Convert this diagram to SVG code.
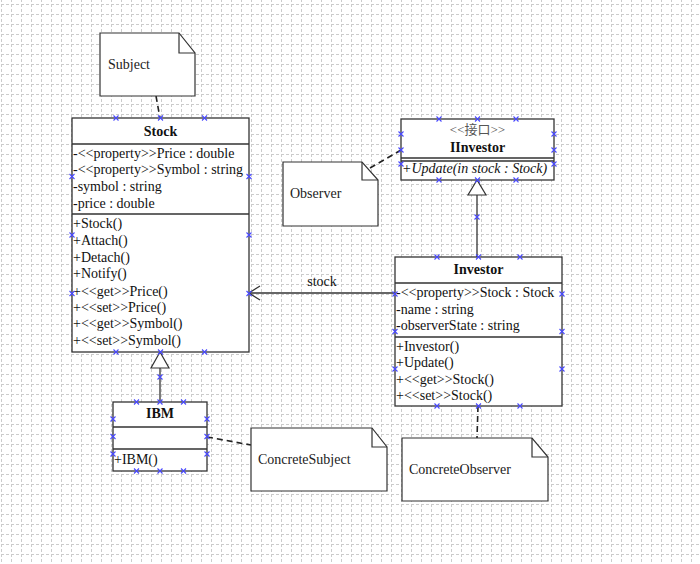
<svg xmlns="http://www.w3.org/2000/svg" xmlns:xlink="http://www.w3.org/1999/xlink" width="700" height="564" viewBox="0 0 700 564">
<defs>
<style>
.bg{fill:#ffffff}
.box{fill:#ffffff;stroke:#333333;stroke-width:1.3}
.sep{stroke:#333333;stroke-width:1.3;fill:none}
.note{fill:#ffffff;stroke:#333333;stroke-width:1.2}
.fold{fill:none;stroke:#333333;stroke-width:1.2}
.dash{fill:none;stroke:#222222;stroke-width:1.6;stroke-dasharray:6 4}
.line{fill:none;stroke:#333333;stroke-width:1.3}
.tri{fill:#ffffff;stroke:#333333;stroke-width:1.2}
.t{font-family:"Liberation Serif","Times New Roman",serif;font-size:14px;fill:#111111}
.b{font-weight:bold;text-anchor:middle}
.i{font-style:italic}
.st{font-family:"Liberation Serif","Noto Sans CJK SC",serif;font-size:13px;fill:#555555;text-anchor:middle}
.nt{font-family:"Liberation Serif","Times New Roman",serif;font-size:14px;fill:#222222}
.xm{stroke:#4848ff;stroke-width:1.1;fill:none}
.gv{stroke:#cccccc;stroke-width:1;stroke-dasharray:3 2}
</style>
<pattern id="grid" x="1" y="4" width="10" height="10" patternUnits="userSpaceOnUse">
<line class="gv" x1="0.5" y1="0" x2="0.5" y2="10"/>
<line class="gv" x1="0" y1="0.5" x2="10" y2="0.5"/>
</pattern>
<path id="xmk" class="xm" d="M-2.5,-2.5L2.5,2.5M-2.5,2.5L2.5,-2.5"/>
</defs>
<rect class="bg" x="0" y="0" width="700" height="564"/>
<rect x="0" y="0" width="700" height="564" fill="url(#grid)"/>

<g id="connectors">
<path class="dash" d="M156,96 L160,118"/>
<path class="dash" d="M370,168 L401,150"/>
<path class="dash" d="M207,437 L251,445"/>
<path class="dash" d="M478,406 L477,438"/>
<path class="line" d="M160,402 V368"/>
<polygon class="tri" points="160,352 151,368 169,368"/>
<path class="line" d="M477,257 V195"/>
<polygon class="tri" points="477,180 468,195 486,195"/>
<path class="line" d="M395,293 H249"/>
<path class="line" d="M260,286 L249,293 L260,300"/>
<text class="t" x="322" y="286" text-anchor="middle">stock</text>
</g>

<g id="note-subject">
<path class="note" d="M100,33 H179 L195,53 V96 H100 Z"/>
<path class="fold" d="M179,33 V53 H195"/>
<text class="nt" x="108" y="69">Subject</text>
</g>

<g id="note-observer">
<path class="note" d="M283,162 H362 L378,180 V226 H283 Z"/>
<path class="fold" d="M362,162 V180 H378"/>
<text class="nt" x="290" y="198">Observer</text>
</g>

<g id="note-concretesubject">
<path class="note" d="M251,428 H372 L387,447 V491 H251 Z"/>
<path class="fold" d="M372,428 V447 H387"/>
<text class="nt" x="258" y="464">ConcreteSubject</text>
</g>

<g id="note-concreteobserver">
<path class="note" d="M402,438 H532 L548,457 V501 H402 Z"/>
<path class="fold" d="M532,438 V457 H548"/>
<text class="nt" x="409" y="474">ConcreteObserver</text>
</g>

<g id="class-stock">
<rect class="box" x="72" y="118" width="177" height="234"/>
<path class="sep" d="M72,144 H249 M72,214 H249"/>
<text class="t b" x="160.5" y="136">Stock</text>
<text class="t" x="73" y="158">-&lt;&lt;property&gt;&gt;Price : double</text>
<text class="t" x="73" y="174">-&lt;&lt;property&gt;&gt;Symbol : string</text>
<text class="t" x="73" y="191">-symbol : string</text>
<text class="t" x="73" y="208">-price : double</text>
<text class="t" x="73" y="228">+Stock()</text>
<text class="t" x="73" y="245">+Attach()</text>
<text class="t" x="73" y="262">+Detach()</text>
<text class="t" x="73" y="278">+Notify()</text>
<text class="t" x="73" y="296">+&lt;&lt;get&gt;&gt;Price()</text>
<text class="t" x="73" y="312">+&lt;&lt;set&gt;&gt;Price()</text>
<text class="t" x="73" y="328">+&lt;&lt;get&gt;&gt;Symbol()</text>
<text class="t" x="73" y="345">+&lt;&lt;set&gt;&gt;Symbol()</text>
</g>

<g id="class-ibm">
<rect class="box" x="113" y="402" width="94" height="69"/>
<path class="sep" d="M113,427 H207 M113,449 H207"/>
<text class="t b" x="160" y="418">IBM</text>
<text class="t" x="114" y="464">+IBM()</text>
</g>

<g id="class-iinvestor">
<rect class="box" x="401" y="119" width="153" height="61"/>
<path class="sep" d="M401,158 H554 M401,161 H554"/>
<text class="st" x="477.5" y="134">&lt;&lt;接口&gt;&gt;</text>
<text class="t b" x="477.5" y="152">IInvestor</text>
<text class="t i" x="402" y="173">+Update(in stock : Stock)</text>
</g>

<g id="class-investor">
<rect class="box" x="395" y="257" width="167" height="149"/>
<path class="sep" d="M395,283 H562 M395,337 H562"/>
<text class="t b" x="478.5" y="274">Investor</text>
<text class="t" x="396" y="297">-&lt;&lt;property&gt;&gt;Stock : Stock</text>
<text class="t" x="396" y="314">-name : string</text>
<text class="t" x="396" y="330">-observerState : string</text>
<text class="t" x="396" y="351">+Investor()</text>
<text class="t" x="396" y="367">+Update()</text>
<text class="t" x="396" y="384">+&lt;&lt;get&gt;&gt;Stock()</text>
<text class="t" x="396" y="400">+&lt;&lt;set&gt;&gt;Stock()</text>
</g>

<g id="connection-points">
<use xlink:href="#xmk" x="116" y="118"/><use xlink:href="#xmk" x="160.5" y="118"/><use xlink:href="#xmk" x="204.5" y="118"/>
<use xlink:href="#xmk" x="116" y="352"/><use xlink:href="#xmk" x="160.5" y="352"/><use xlink:href="#xmk" x="204.5" y="352"/>
<use xlink:href="#xmk" x="72" y="176.5"/><use xlink:href="#xmk" x="72" y="235"/><use xlink:href="#xmk" x="72" y="293.5"/>
<use xlink:href="#xmk" x="249" y="176.5"/><use xlink:href="#xmk" x="249" y="235"/><use xlink:href="#xmk" x="249" y="293.5"/>
<use xlink:href="#xmk" x="136.5" y="402"/><use xlink:href="#xmk" x="160" y="402"/><use xlink:href="#xmk" x="183.5" y="402"/>
<use xlink:href="#xmk" x="136.5" y="471"/><use xlink:href="#xmk" x="160" y="471"/><use xlink:href="#xmk" x="183.5" y="471"/>
<use xlink:href="#xmk" x="113" y="419"/><use xlink:href="#xmk" x="113" y="436.5"/><use xlink:href="#xmk" x="113" y="454"/>
<use xlink:href="#xmk" x="207" y="419"/><use xlink:href="#xmk" x="207" y="436.5"/><use xlink:href="#xmk" x="207" y="454"/>
<use xlink:href="#xmk" x="439" y="119"/><use xlink:href="#xmk" x="477.5" y="119"/><use xlink:href="#xmk" x="516" y="119"/>
<use xlink:href="#xmk" x="439" y="180"/><use xlink:href="#xmk" x="477.5" y="180"/><use xlink:href="#xmk" x="516" y="180"/>
<use xlink:href="#xmk" x="401" y="134"/><use xlink:href="#xmk" x="401" y="150"/><use xlink:href="#xmk" x="401" y="164"/>
<use xlink:href="#xmk" x="554" y="134"/><use xlink:href="#xmk" x="554" y="150"/><use xlink:href="#xmk" x="554" y="164"/>
<use xlink:href="#xmk" x="437" y="257"/><use xlink:href="#xmk" x="478.5" y="257"/><use xlink:href="#xmk" x="520" y="257"/>
<use xlink:href="#xmk" x="437" y="406"/><use xlink:href="#xmk" x="478.5" y="406"/><use xlink:href="#xmk" x="520" y="406"/>
<use xlink:href="#xmk" x="395" y="294"/><use xlink:href="#xmk" x="395" y="331.5"/><use xlink:href="#xmk" x="395" y="369"/>
<use xlink:href="#xmk" x="562" y="294"/><use xlink:href="#xmk" x="562" y="331.5"/><use xlink:href="#xmk" x="562" y="369"/>
<use xlink:href="#xmk" x="160" y="377"/><use xlink:href="#xmk" x="477" y="217"/>
</g>
</svg>
